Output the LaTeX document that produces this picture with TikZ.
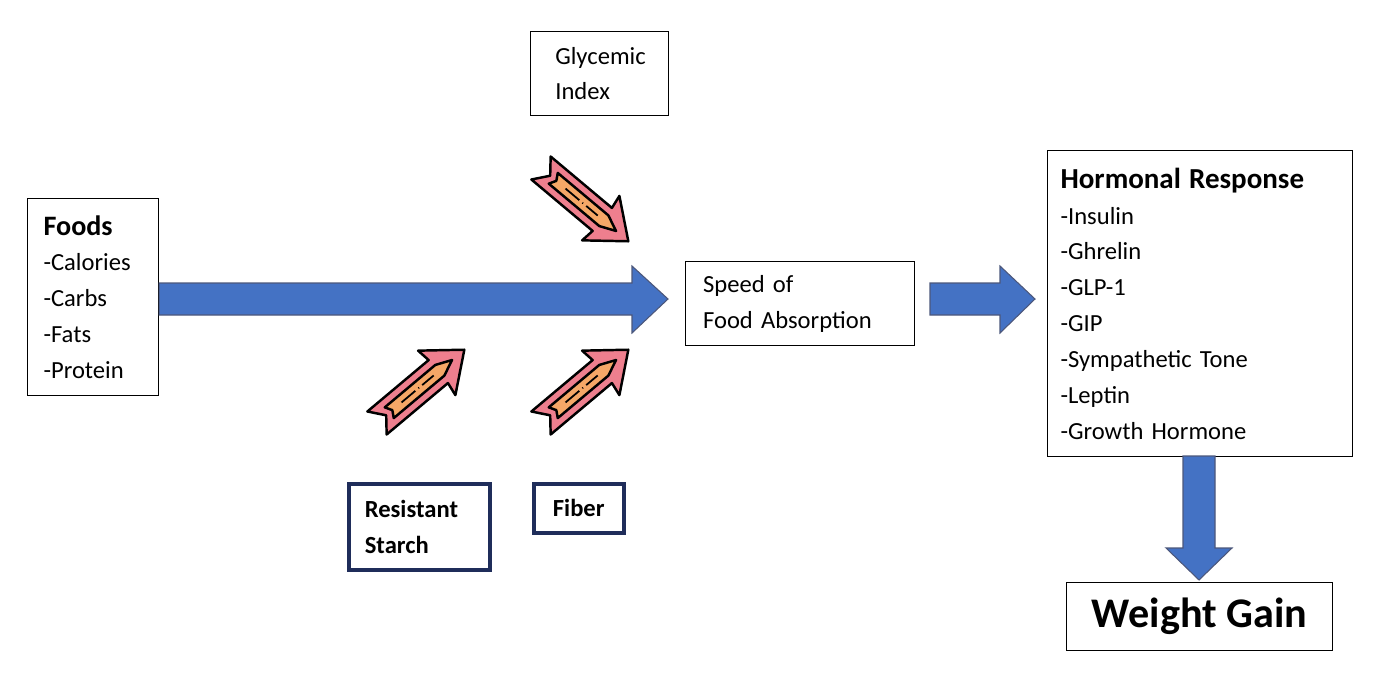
\documentclass[tikz,border=0pt]{standalone}
\usepackage{fontspec}
\setmainfont{Carlito}
\usetikzlibrary{positioning}
\definecolor{fatblue}{HTML}{4472C4}
\definecolor{fatpink}{HTML}{EE7F8E}
\definecolor{fatorange}{HTML}{F5A767}
\definecolor{navy}{HTML}{1F2D5A}
\tikzset{box/.style={draw, line width=.6pt, align=left, anchor=north west,
    inner sep=0pt, font=\fontsize{14}{20.4}\selectfont}}
\tikzset{boldbox/.style={box, draw=navy, line width=2pt, font=\bfseries\fontsize{14}{20.4}\selectfont}}
\tikzset{bluearrow/.style={fill=fatblue, draw=navy!80, line width=.6pt}}
\newcommand{\pinkarrow}[3]{%
  \begin{scope}[shift={(#1,#2)}, rotate=#3, line width=1.4pt, line join=round]
    \draw[fill=fatpink] (0,-15) -- (80,-15) -- (78,-29) -- (114,0) -- (78,29)
      -- (80,15) -- (0,15) -- (12,0) -- cycle;
    \draw[fill=fatorange] (16,-7) -- (82,-7) -- (98,0) -- (82,7) -- (16,7)
      -- (20,0) -- cycle;
    \draw[line width=1pt] (32,0) -- (50,0) (54,0) -- (55,0) (59,0) -- (74,0);
  \end{scope}}

\begin{document}
\begin{tikzpicture}[x=0.02cm, y=-0.02cm]
    \useasboundingbox (0,0) rectangle (1379,676);
    % boxes
    \node[box, minimum width=138*0.02cm, minimum height=84*0.02cm, text width=120*0.02cm]
      (gi) at (530,31) {\hspace*{15\pgflinewidth}Glycemic\\\hspace*{15\pgflinewidth}Index};
    \node[box, minimum width=131*0.02cm, minimum height=197*0.02cm, text width=120*0.02cm]
      (foods) at (27,198) {\hspace{6pt}\textbf{\fontsize{16}{22}\selectfont Foods}\\\hspace{6pt}-Calories\\\hspace{6pt}-Carbs\\\hspace{6pt}-Fats\\\hspace{6pt}-Protein};
    \node[box, minimum width=229*0.02cm, minimum height=84*0.02cm, text width=215*0.02cm]
      (speed) at (685,261) {\hspace{6pt}Speed of\\\hspace{6pt}Food Absorption};
    \node[box, minimum width=305*0.02cm, minimum height=306*0.02cm, text width=300*0.02cm]
      (horm) at (1047,150) {\hspace{6pt}\textbf{\fontsize{16.5}{20.4}\selectfont Hormonal Response}\\\hspace{6pt}-Insulin\\\hspace{6pt}-Ghrelin\\\hspace{6pt}-GLP-1\\\hspace{6pt}-GIP\\\hspace{6pt}-Sympathetic Tone\\\hspace{6pt}-Leptin\\\hspace{6pt}-Growth Hormone};
    \node[box, minimum width=266*0.02cm, minimum height=68*0.02cm, align=center,
      font=\bfseries\fontsize{24}{28}\selectfont] (wg) at (1066,582) {Weight Gain};
    \node[boldbox, minimum width=141*0.02cm, minimum height=86*0.02cm, text width=130*0.02cm]
      (rs) at (347,482) {\hspace{6pt}Resistant\\\hspace{6pt}Starch};
    \node[boldbox, minimum width=90*0.02cm, minimum height=49*0.02cm, align=center]
      (fiber) at (532,482) {Fiber};
    % blue arrows
    \draw[bluearrow] (foods.east |- 0,283) -- (632,283) -- (632,266) -- (668,299)
      -- (632,333) -- (632,315) -- (foods.east |- 0,315) -- cycle;
    \draw[bluearrow] (930,283) -- (1000,283) -- (1000,266) -- (1035,299)
      -- (1000,333) -- (1000,315) -- (930,315) -- cycle;
    \draw[bluearrow] (1183,456) -- (1215,456) -- (1215,548) -- (1232,548)
      -- (1199,580) -- (1166,548) -- (1183,548) -- cycle;
    % pink arrows
    \pinkarrow{541}{168}{-40}
    \pinkarrow{377}{423}{40}
    \pinkarrow{541}{423}{40}
\end{tikzpicture}
\end{document}
